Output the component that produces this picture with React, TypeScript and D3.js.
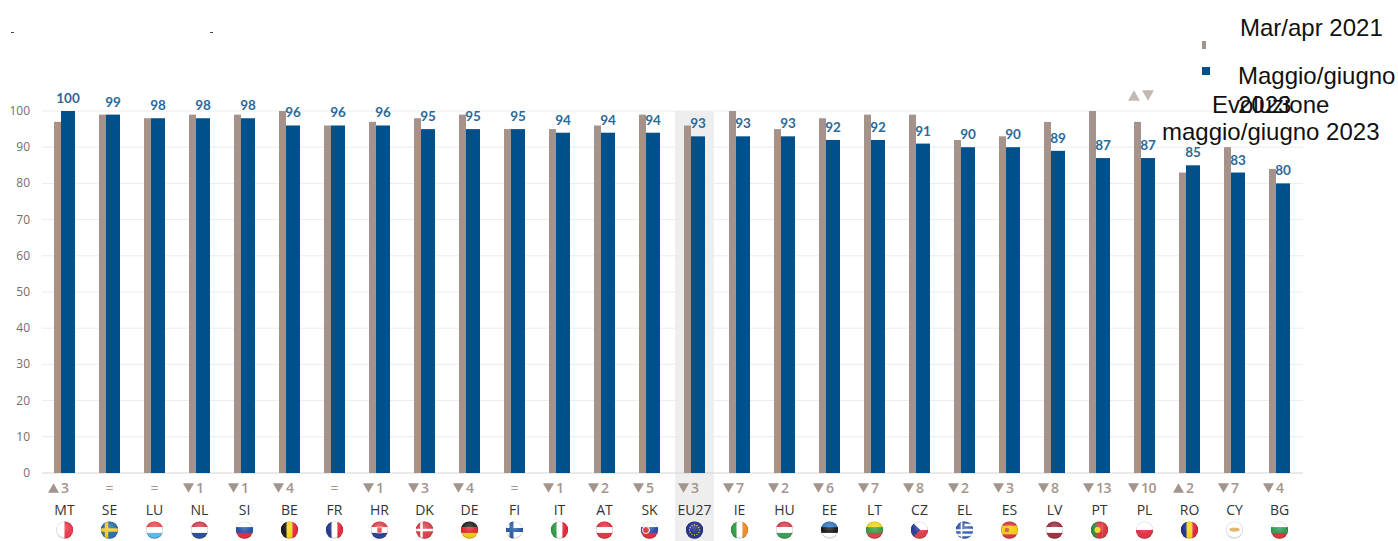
import React from "react";
import * as d3 from "d3";

const W = 1398;
const H = 541;

const countries = ["MT","SE","LU","NL","SI","BE","FR","HR","DK","DE","FI","IT","AT","SK","EU27","IE","HU","EE","LT","CZ","EL","ES","LV","PT","PL","RO","CY","BG"];
const marApr2021 = [97,99,98,99,99,100,96,97,98,99,95,95,96,99,96,100,95,98,99,99,92,93,97,100,97,83,90,84];
const maggioGiugno2023 = [100,99,98,98,98,96,96,96,95,95,95,94,94,94,93,93,93,92,92,91,90,90,89,87,87,85,83,80];
const evolution = ["u3","=","=","d1","d1","d4","=","d1","d3","d4","=","d1","d2","d5","d3","d7","d2","d6","d7","d8","d2","d3","d8","d13","d10","u2","d7","d4"];
const yTicks = [0,10,20,30,40,50,60,70,80,90,100];

// Simplified flags: orientation of the stripes plus their colours.
const flagStripes: Record<string, [string, string[]]> = {
  MT: ["v", ["#ffffff", "#e8394a"]],
  SE: ["h", ["#2a6ea6", "#2a6ea6"]],
  LU: ["h", ["#ef4a4a", "#ffffff", "#5cb8e6"]],
  NL: ["h", ["#d5404f", "#ffffff", "#2b4d93"]],
  SI: ["h", ["#ffffff", "#2b4fa8", "#e02b35"]],
  BE: ["v", ["#1a1a1a", "#f7d417", "#e3283a"]],
  FR: ["v", ["#24398f", "#ffffff", "#e3283a"]],
  HR: ["h", ["#e0434a", "#ffffff", "#2a3d96"]],
  DK: ["h", ["#d9404a", "#d9404a"]],
  DE: ["h", ["#222222", "#dd2a2a", "#f7c916"]],
  FI: ["h", ["#ffffff", "#ffffff"]],
  IT: ["v", ["#2f9a45", "#ffffff", "#e3283a"]],
  AT: ["h", ["#e3343f", "#ffffff", "#e3343f"]],
  SK: ["h", ["#ffffff", "#2b4fa8", "#e02b35"]],
  EU27: ["h", ["#23308f"]],
  IE: ["v", ["#2f9a45", "#ffffff", "#f08a24"]],
  HU: ["h", ["#d9404a", "#ffffff", "#3f9a55"]],
  EE: ["h", ["#3577c2", "#1a1a1a", "#ffffff"]],
  LT: ["h", ["#f2d616", "#3f9a45", "#d9404a"]],
  CZ: ["h", ["#ffffff", "#d9404a"]],
  EL: ["h", ["#3a62ad", "#ffffff", "#3a62ad", "#ffffff", "#3a62ad", "#ffffff", "#3a62ad"]],
  ES: ["h", ["#d9333a", "#f7c916", "#f7c916", "#d9333a"]],
  LV: ["h", ["#9c2f3f", "#ffffff", "#9c2f3f"]],
  PT: ["v", ["#2f8a45", "#d9333a", "#d9333a"]],
  PL: ["h", ["#ffffff", "#dd3344"]],
  RO: ["v", ["#22318f", "#f7d417", "#d9283a"]],
  CY: ["h", ["#ffffff"]],
  BG: ["h", ["#ffffff", "#2f9a55", "#d9343a"]],
};

const TAN = "#a5928a";
const BLUE = "#00508c";
const LABEL = "#2a6a99";
const ARROW = "#a3958c";
const FLAG_R = 8.7;
const FLAG_Y = 530;
const COL_SHIFT = 2.5;

const y = d3.scaleLinear().domain([0, 100]).range([473, 111]);
const band = d3.scaleBand<string>().domain(countries).range([39.5, 1299.5]);

function Arrow({ cx, cy, up, size = 6, fill = ARROW }: { cx: number; cy: number; up: boolean; size?: number; fill?: string }) {
  const h = size * 0.88;
  const p = d3.path();
  p.moveTo(cx - size, up ? cy + h : cy - h);
  p.lineTo(cx + size, up ? cy + h : cy - h);
  p.lineTo(cx, up ? cy - h : cy + h);
  p.closePath();
  return <path d={p.toString()} fill={fill} />;
}

function Flag({ code, cx, cy }: { code: string; cx: number; cy: number }) {
  const r = FLAG_R;
  const [dir, colours] = flagStripes[code];
  const n = colours.length;
  const x0 = cx - r;
  const y0 = cy - r;
  const s = (2 * r) / n;
  const cross = (c: string, sw: number) => (
    <g stroke={c} strokeWidth={sw}>
      <line x1={cx - 3} x2={cx - 3} y1={y0} y2={y0 + 2 * r} />
      <line x1={x0} x2={x0 + 2 * r} y1={cy} y2={cy} />
    </g>
  );
  return (
    <g clipPath={`url(#clip-${code})`}>
      {colours.map((c, i) =>
        dir === "h" ? (
          <rect key={i} x={x0} y={y0 + i * s} width={2 * r} height={s + 0.3} fill={c} />
        ) : (
          <rect key={i} x={x0 + i * s} y={y0} width={s + 0.3} height={2 * r} fill={c} />
        )
      )}
      {code === "SE" && cross("#f5cf1f", 3.5)}
      {code === "DK" && cross("#ffffff", 2.5)}
      {code === "FI" && cross("#2b5aa8", 4)}
      {code === "CZ" && <path d={`M${x0},${y0}L${cx + 1},${cy}L${x0},${y0 + 2 * r}Z`} fill="#2a3d96" />}
      {code === "EL" && <rect x={x0} y={y0} width={r} height={r} fill="#3a62ad" />}
      {code === "EL" && cross("#ffffff", 1.6)}
      {code === "SK" && <circle cx={cx - 3.5} cy={cy} r={3.5} fill="#d9333a" stroke="#fff" />}
      {code === "PT" && <circle cx={cx - 2} cy={cy} r={3} fill="#f2d616" />}
      {code === "ES" && <circle cx={cx - 2.5} cy={cy} r={2.3} fill="#c8602a" />}
      {code === "CY" && <ellipse cx={cx} cy={cy - 0.5} rx={5} ry={2} fill="#e0a95a" />}
      {code === "EU27" &&
        d3.range(12).map((i) => (
          <circle
            key={i}
            cx={cx + 5 * Math.cos((i * Math.PI) / 6)}
            cy={cy + 5 * Math.sin((i * Math.PI) / 6)}
            r={0.7}
            fill="#f7d417"
          />
        ))}
      {code === "HR" && <rect x={cx - 2.5} y={cy - 3} width={5} height={6} fill="#e0434a" stroke="#fff" strokeWidth={0.6} />}
      <circle cx={cx} cy={cy} r={r} fill="url(#sheen)" />
      <circle cx={cx} cy={cy} r={r - 0.3} fill="none" stroke="#000" strokeOpacity={0.15} />
    </g>
  );
}

export default function App() {
  const barW = 14;
  const tanW = 7;
  return (
    <svg
      width={W}
      height={H}
      viewBox={`0 0 ${W} ${H}`}
      style={{ position: "absolute", left: 0, top: 0, background: "#fff" }}
    >
      <defs>
        <radialGradient id="sheen" cx="50%" cy="35%" r="70%">
          <stop offset="0%" stopColor="#fff" stopOpacity={0.22} />
          <stop offset="60%" stopColor="#fff" stopOpacity={0} />
          <stop offset="100%" stopColor="#000" stopOpacity={0.2} />
        </radialGradient>
        {countries.map((c) => (
          <clipPath id={`clip-${c}`} key={c}>
            <circle cx={band(c)! + band.bandwidth() / 2 + COL_SHIFT} cy={FLAG_Y} r={FLAG_R} />
          </clipPath>
        ))}
      </defs>

      {/* highlighted EU27 column */}
      <rect x={band("EU27")! + 5.5} y={y(100)} width={39} height={H - y(100)} fill="#eeeeee" />

      {/* gridlines and y axis */}
      {yTicks.map((t) => (
        <g key={t}>
          <line x1={42} x2={1303} y1={y(t)} y2={y(t)} stroke={t === 0 ? "#d4d4d4" : "#ececec"} />
          <text x={30} y={y(t) + 4} textAnchor="end" fontFamily="Open Sans" fontSize={12} fill="#6f6f6f">
            {t}
          </text>
        </g>
      ))}

      {/* paired bars per country */}
      {countries.map((c, i) => {
        const cx = band(c)! + band.bandwidth() / 2;
        const split = cx - 1;
        const ev = evolution[i];
        return (
          <g key={c}>
            <rect x={split - tanW} y={y(marApr2021[i])} width={tanW} height={y(0) - y(marApr2021[i])} fill={TAN} />
            <rect x={split} y={y(maggioGiugno2023[i])} width={barW} height={y(0) - y(maggioGiugno2023[i])} fill={BLUE} />
            <text
              x={split + barW / 2}
              y={y(maggioGiugno2023[i]) - 8}
              textAnchor="middle"
              fontFamily="Lato"
              fontWeight={700}
              fontSize={13.5}
              fill={LABEL}
            >
              {maggioGiugno2023[i]}
            </text>
            {ev === "=" ? (
              <text x={cx + COL_SHIFT} y={493} textAnchor="middle" fontFamily="Open Sans" fontSize={14} fill={ARROW}>
                =
              </text>
            ) : (
              <g>
                <Arrow cx={cx - 8.5} cy={488} up={ev[0] === "u"} size={5.5} />
                <text x={cx - 1} y={493} fontFamily="Open Sans" fontWeight={600} fontSize={14} letterSpacing={-0.5} fill={ARROW}>
                  {ev.slice(1)}
                </text>
              </g>
            )}
            <text x={cx + COL_SHIFT} y={514.5} textAnchor="middle" fontFamily="Open Sans" fontSize={14} fill="#333">
              {c}
            </text>
            <Flag code={c} cx={cx + COL_SHIFT} cy={FLAG_Y} />
          </g>
        );
      })}

      {/* stray ticks along the top */}
      <rect x={11} y={32} width={3} height={1} fill="#444" />
      <rect x={210} y={32} width={3} height={1} fill="#444" />

      {/* legend */}
      <rect x={1202} y={41} width={4} height={8} fill={TAN} />
      <rect x={1202} y={67} width={8} height={8} fill={BLUE} />
      <g fontFamily="Liberation Sans" fontSize={24} fill="#111">
        <text x={1240} y={36}>Mar/apr 2021</text>
        <text x={1238} y={84}>Maggio/giugno</text>
        <text x={1238} y={113}>2023</text>
        <text x={1212} y={113}>Evoluzione</text>
        <text x={1162} y={140}>maggio/giugno 2023</text>
      </g>
      <Arrow cx={1134} cy={95.5} up size={6} fill="#c4bab3" />
      <Arrow cx={1148} cy={95.5} up={false} size={6} fill="#c4bab3" />
    </svg>
  );
}
